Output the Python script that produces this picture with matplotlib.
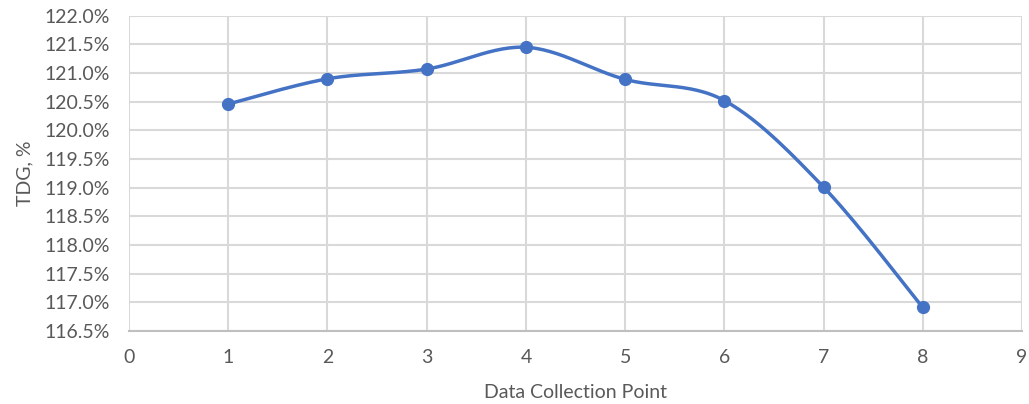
import matplotlib
matplotlib.use("Agg")
import matplotlib.pyplot as plt
import numpy as np
from matplotlib.ticker import FuncFormatter

# data
points = [1, 2, 3, 4, 5, 6, 7, 8]
tdg = [120.46, 120.90, 121.07, 121.45, 120.89, 120.52, 119.01, 116.91]

plt.rcParams["font.family"] = ["Lato", "DejaVu Sans"]
text_color = "#595959"
line_color = "#4472C4"


def smooth_curve(x, y, n=30):
    """Catmull-Rom smoothing, similar to Excel's smoothed line"""
    x = np.asarray(x, dtype=float)
    y = np.asarray(y, dtype=float)
    px = np.concatenate([[x[0]], x, [x[-1]]])
    py = np.concatenate([[y[0]], y, [y[-1]]])
    xs, ys = [], []
    t = np.linspace(0, 1, n)
    for i in range(1, len(px) - 2):
        p0, p1, p2, p3 = (np.array([px[j], py[j]]) for j in range(i - 1, i + 3))
        c1 = p1 + (p2 - p0) / 6
        c2 = p2 - (p3 - p1) / 6
        seg = ((1 - t) ** 3)[:, None] * p1 + (3 * (1 - t) ** 2 * t)[:, None] * c1 \
            + (3 * (1 - t) * t ** 2)[:, None] * c2 + (t ** 3)[:, None] * p2
        xs.extend(seg[:, 0])
        ys.extend(seg[:, 1])
    return xs, ys


fig = plt.figure(figsize=(10.29, 4.04), dpi=100)
ax = fig.add_axes([0.1254, 0.1807, 0.8678, 0.7803])

sx, sy = smooth_curve(points, tdg)
ax.plot(sx, sy, color=line_color, linewidth=2.5, zorder=3)
ax.plot(points, tdg, "o", color=line_color, markersize=8.5, zorder=4)

ax.set_xlim(0, 9)
ax.set_ylim(116.5, 122.0)
ax.set_xticks(range(0, 10))
ax.set_yticks(np.arange(116.5, 122.01, 0.5))
ax.yaxis.set_major_formatter(FuncFormatter(lambda v, _: f"{v:.1f}%"))

ax.grid(True, color="#d9d9d9", linewidth=1.5)
ax.set_axisbelow(True)
for side in ["top", "right", "left"]:
    ax.spines[side].set_visible(False)
ax.spines["bottom"].set_color("#bfbfbf")
ax.spines["bottom"].set_linewidth(1.5)

ax.tick_params(axis="both", length=0, labelsize=14, colors=text_color)
ax.tick_params(axis="x", pad=13)
ax.tick_params(axis="y", pad=14)

ax.set_xlabel("Data Collection Point", fontsize=14, color=text_color, labelpad=13)
ax.set_ylabel("TDG, %", fontsize=14, color=text_color, labelpad=8)

fig.savefig("out.png", dpi=100)
plt.close(fig)
